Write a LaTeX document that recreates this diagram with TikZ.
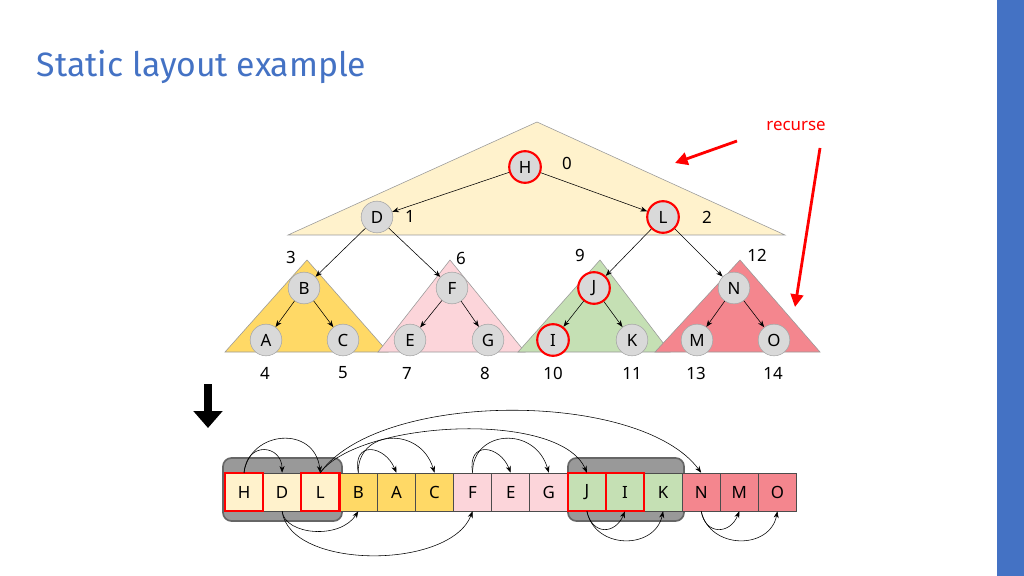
\documentclass[tikz,border=0pt]{standalone}
\usepackage{fontspec}
\setmainfont{Noto Sans}
\newfontfamily\titlefont{Fira Sans}
\usetikzlibrary{arrows.meta}

\definecolor{titleblue}{HTML}{4472C4}
\definecolor{lightyel}{HTML}{FFF2CC}
\definecolor{yel}{HTML}{FFD966}
\definecolor{pnk}{HTML}{FCD5DA}
\definecolor{grn}{HTML}{C5E0B4}
\definecolor{rd}{HTML}{F4868E}
\definecolor{nodegray}{HTML}{D9D9D9}

\tikzset{
  vertex/.style={circle,fill=nodegray,draw=gray!70,minimum size=25pt*0.9,inner sep=0pt,font=\large},
  marked/.style={draw=red,line width=1.5pt},
  tri/.style={draw=gray!80,line width=0.4pt},
  cell/.style={draw=black!70,minimum width=38.1*0.025cm,minimum height=38*0.025cm,inner sep=0pt,font=\large},
  pick/.style={draw=red,line width=1.5pt},
  num/.style={font=\large},
}

\begin{document}
\begin{tikzpicture}[x=0.025cm,y=-0.025cm,>=Stealth]
\useasboundingbox (0,0) rectangle (1024,576);
\fill[titleblue] (997,0) rectangle (1024,576);
\node[anchor=west,text=titleblue,font=\titlefont\fontsize{24}{28}\selectfont] (title) at (32,67) {Static layout example};

% subtrees
\draw[tri,fill=lightyel] (537,122) -- (785,235) -- (288,235) -- cycle;
\draw[tri,fill=yel] (307,260) -- (388,352) -- (225,352) -- cycle;
\draw[tri,fill=pnk] (450,260) -- (525,352) -- (378,352) -- cycle;
\draw[tri,fill=grn] (600,260) -- (670,352) -- (518,352) -- cycle;
\draw[tri,fill=rd] (740,260) -- (820,352) -- (655,352) -- cycle;

% nodes
\node[vertex,marked] (H) at (525,167) {H};
\node[vertex] (D) at (377,217) {D};
\node[vertex,marked] (L) at (663,217) {L};
\node[vertex] (B) at (304,288) {B};
\node[vertex] (F) at (452,288) {F};
\node[vertex,marked] (J) at (594,288) {J};
\node[vertex] (N) at (734,288) {N};
\node[vertex] (A) at (266,340) {A};
\node[vertex] (C) at (343,340) {C};
\node[vertex] (E) at (410,340) {E};
\node[vertex] (G) at (488,340) {G};
\node[vertex,marked] (I) at (553,340) {I};
\node[vertex] (K) at (632,340) {K};
\node[vertex] (M) at (697,340) {M};
\node[vertex] (O) at (774,340) {O};

\path[->]
  (H) edge (D) edge (L)
  (D) edge (B) edge (F)
  (L) edge (J) edge (N)
  (B) edge (A) edge (C)
  (F) edge (E) edge (G)
  (J) edge (I) edge (K)
  (N) edge (M) edge (O);

% indices
\foreach \t/\x/\y in {0/567/163,1/410/216,2/707/217,3/291/257,6/461/258,9/580/255,12/757/255,
  4/265/373,5/343/373,7/407/373,8/485/373,10/553/373,11/632/373,13/696/373,14/773/373}
  \node[num] (n\t) at (\x,\y) {\t};

% recurse
\node[text=red,font=\large] (rec) at (796,126) {recurse};
\coordinate (r1) at (675,163);
\coordinate (r2) at (795,307);
\draw[red,line width=2pt,-{Triangle[length=9pt,width=9pt]}] (737,141) -- (r1);
\draw[red,line width=2pt,-{Triangle[length=9pt,width=9pt]}] (820,148) -- (r2);

% down arrow
\draw[line width=6pt,-{Triangle[length=12pt,width=20pt]}] (208,384) -- (208,428);

% gray groups
\fill[black!40,draw=black!60,line width=1.2pt,rounded corners=6pt] (223,458) rectangle (342,521);
\fill[black!40,draw=black!60,line width=1.2pt,rounded corners=6pt] (568,458) rectangle (684,521);

% array
\foreach \l/\c [count=\i from 0] in {H/lightyel,D/lightyel,L/lightyel,B/yel,A/yel,C/yel,F/pnk,E/pnk,G/pnk,J/grn,I/grn,K/grn,N/rd,M/rd,O/rd}
  \node[cell,fill=\c] (c\l) at (244+38.1*\i,492) {\l};
\foreach \l in {H,L,J,I}
  \draw[pick] (c\l.north west) rectangle (c\l.south east);

% layout jumps
\draw[->] (cH.north) .. controls (247,440) and (282,445) .. (cD.north);
\draw[->] (cH.north) .. controls (250,430) and (315,425) .. (cL.north);
\draw[->] (cB.north) .. controls (352,440) and (385,445) .. (cA.north);
\draw[->] (cB.north) .. controls (357,430) and (420,425) .. (cC.north);
\draw[->] (cF.north) .. controls (467,440) and (500,445) .. (cE.north);
\draw[->] (cF.north) .. controls (472,430) and (535,425) .. (cG.north);
\draw[->] (cL.north) .. controls (360,420) and (560,410) .. (cJ.north);
\draw[->] (cL.north) .. controls (380,390) and (640,390) .. (cN.north);
\draw[->] (cD.south) .. controls (285,535) and (340,540) .. (cB.south);
\draw[->] (cD.south) .. controls (290,570) and (450,570) .. (cF.south);
\draw[->] (cJ.south) .. controls (592,535) and (615,535) .. (cI.south);
\draw[->] (cJ.south) .. controls (595,550) and (655,550) .. (cK.south);
\draw[->] (cN.south) .. controls (705,535) and (730,535) .. (cM.south);
\draw[->] (cN.south) .. controls (710,550) and (770,550) .. (cO.south);
\end{tikzpicture}
\end{document}
